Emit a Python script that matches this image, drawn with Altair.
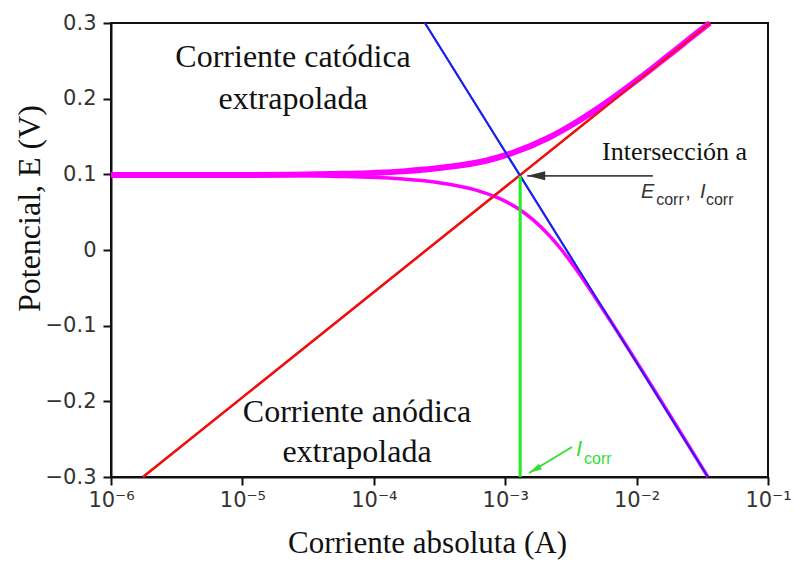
import altair as alt
import pandas as pd

# Extrapolated Tafel lines (current in A, potential in V)
anodic_line_I = [1.75e-6, 3.62e-2]
anodic_line_E = [-0.30, 0.30]
cathodic_line_I = [2.45e-4, 3.49e-2]
cathodic_line_E = [0.30, -0.30]

# Measured polarization branches
anodic_curve_I = [1.0e-6, 1.14e-5, 4.65e-5, 1.67e-4, 3.37e-4, 7.14e-4, 1.13e-3,
                  2.12e-3, 3.40e-3, 6.28e-3, 1.06e-2, 1.79e-2, 3.03e-2, 3.61e-2]
anodic_curve_E = [0.099, 0.099, 0.1003, 0.1039, 0.1089, 0.118, 0.1282,
                  0.148, 0.1678, 0.1982, 0.2274, 0.2584, 0.2898, 0.300]
cathodic_curve_I = [1.0e-6, 1.14e-5, 4.65e-5, 1.58e-4, 3.08e-4, 6.0e-4, 8.75e-4,
                    1.27e-3, 1.65e-3, 2.17e-3, 2.72e-3, 3.65e-3, 5.2e-3, 3.49e-2]
cathodic_curve_E = [0.099, 0.099, 0.0975, 0.0941, 0.0891, 0.0792, 0.0691,
                    0.0542, 0.0391, 0.019, -0.001, -0.031, -0.071, -0.300]

# Corrosion point
I_corr = 1.30e-3
E_corr = 0.098

x_ticks = [1e-6, 1e-5, 1e-4, 1e-3, 1e-2, 1e-1]
y_ticks = [-0.3, -0.2, -0.1, 0.0, 0.1, 0.2, 0.3]

SERIF = "Liberation Serif"
SANS = "DejaVu Sans"

xscale = alt.Scale(type="log", domain=[1e-6, 1e-1], nice=False)
yscale = alt.Scale(domain=[-0.3, 0.3], nice=False, zero=False)

X = alt.X(
    "I:Q", scale=xscale,
    axis=alt.Axis(
        values=x_ticks, title="Corriente absoluta (A)",
        labelExpr="'10' + ['⁻⁶','⁻⁵','⁻⁴','⁻³','⁻²','⁻¹','⁰'][round(log(datum.value)/LN10)+6]",
        labelFont=SANS, labelFontSize=21, labelColor="#333", labelPadding=4,
        titleFont=SERIF, titleFontSize=31, titleFontWeight="normal", titleColor="#111",
        titleX=316, titleY=66, titleBaseline="middle", titleAlign="center",
        grid=False, tickSize=8, tickWidth=2, tickColor="#111",
        domainColor="#111", domainWidth=2, labelFlush=False,
    ),
)
Y = alt.Y(
    "E:Q", scale=yscale,
    axis=alt.Axis(
        values=y_ticks, title="Potencial, E (V)",
        labelExpr="abs(datum.value) < 1e-9 ? '0' : format(datum.value, '.1f')",
        labelFont=SANS, labelFontSize=21, labelColor="#333", labelPadding=7,
        titleFont=SERIF, titleFontSize=32, titleFontWeight="normal", titleColor="#111",
        titleX=-82, titleY=185, titleBaseline="middle", titleAlign="center", titleAngle=270,
        grid=False, tickSize=8, tickWidth=2, tickColor="#111",
        domainColor="#111", domainWidth=2, labelFlush=False,
    ),
)


def line_df(I, E):
    return pd.DataFrame({"I": I, "E": E})


red = alt.Chart(line_df(anodic_line_I, anodic_line_E)).mark_line(
    color="#ee1111", strokeWidth=2.5).encode(x=X, y=Y)
blue = alt.Chart(line_df(cathodic_line_I, cathodic_line_E)).mark_line(
    color="#1a22ee", strokeWidth=2).encode(x=X, y=Y)
mag_up = alt.Chart(line_df(anodic_curve_I, anodic_curve_E)).mark_line(
    color="#ff00ff", strokeWidth=6, interpolate="monotone").encode(x=X, y=Y)
mag_dn = alt.Chart(line_df(cathodic_curve_I, cathodic_curve_E)).mark_line(
    color="#ff00ff", strokeWidth=3.5, interpolate="monotone").encode(x=X, y=Y)
red_top = alt.Chart(line_df(anodic_line_I, anodic_line_E)).mark_line(
    color="#ee1111", strokeWidth=2).encode(x=X, y=Y)
blue_top = alt.Chart(line_df(cathodic_line_I, cathodic_line_E)).mark_line(
    color="#1a22ee", strokeWidth=1.8).encode(x=X, y=Y)

# Vertical marker at I_corr
green = alt.Chart(pd.DataFrame({"I": [I_corr], "E": [E_corr], "E2": [-0.3]})).mark_rule(
    color="#22ee22", strokeWidth=3).encode(x=X, y=Y, y2="E2:Q")

ARROW = "M0,0L2,-0.5L2,0.5Z"

# Black arrow pointing at the intersection
arrow_df = pd.DataFrame({"I": [1.47e-3], "I2": [1.33e-2], "E": [E_corr]})
black_shaft = alt.Chart(arrow_df).mark_rule(color="#444", strokeWidth=1.6).encode(
    x=X, x2="I2:Q", y=Y)
black_head = alt.Chart(arrow_df).mark_point(
    shape=ARROW, filled=True, size=324, color="#333", opacity=1).encode(x=X, y=Y)

# Green arrow pointing at I_corr on the axis
garrow_df = pd.DataFrame({"I": [1.52e-3], "E": [-0.2947], "I2": [3.22e-3], "E2": [-0.2603]})
green_shaft = alt.Chart(garrow_df).mark_rule(color="#33dd33", strokeWidth=1.8).encode(
    x=X, y=Y, x2="I2:Q", y2="E2:Q")
green_head = alt.Chart(garrow_df).mark_point(
    shape=ARROW, filled=True, size=169, angle=330, color="#33dd33", opacity=1).encode(x=X, y=Y)

# Text annotations
serif_big = pd.DataFrame({
    "I": [2.43e-5, 2.43e-5, 7.45e-5, 7.45e-5],
    "E": [0.2419, 0.1863, -0.2269, -0.2798],
    "t": ["Corriente catódica", "extrapolada", "Corriente anódica", "extrapolada"],
})
big_text = alt.Chart(serif_big).mark_text(
    font=SERIF, fontSize=32, color="#111", align="center", baseline="alphabetic").encode(
    x=X, y=Y, text="t:N")

inter_text = alt.Chart(pd.DataFrame({"I": [5.46e-3], "E": [0.119], "t": ["Intersección a"]})).mark_text(
    font=SERIF, fontSize=26, color="#111", align="left", baseline="alphabetic").encode(
    x=X, y=Y, text="t:N")

sym_df = pd.DataFrame({
    "I": [1.08e-2, 3.04e-2],
    "E": [0.0687, 0.0687],
    "t": ["E", "I"],
})
sym_text = alt.Chart(sym_df).mark_text(
    font="Liberation Sans", fontStyle="italic", fontSize=20, color="#333",
    align="left", baseline="alphabetic").encode(x=X, y=Y, text="t:N")
comma_text = alt.Chart(pd.DataFrame({"I": [2.35e-2], "E": [0.0687], "t": [","]})).mark_text(
    font="Liberation Sans", fontSize=20, color="#333",
    align="left", baseline="alphabetic").encode(x=X, y=Y, text="t:N")
sub_df = pd.DataFrame({
    "I": [1.41e-2, 3.37e-2],
    "E": [0.0595, 0.0595],
    "t": ["corr", "corr"],
})
sub_text = alt.Chart(sub_df).mark_text(
    font="Liberation Sans", fontSize=16, color="#333",
    align="left", baseline="alphabetic").encode(x=X, y=Y, text="t:N")

g_sym = alt.Chart(pd.DataFrame({"I": [3.46e-3], "E": [-0.2722], "t": ["I"]})).mark_text(
    font="Liberation Sans", fontStyle="italic", fontSize=22, color="#33dd33",
    align="left", baseline="alphabetic").encode(x=X, y=Y, text="t:N")
g_sub = alt.Chart(pd.DataFrame({"I": [3.98e-3], "E": [-0.2828], "t": ["corr"]})).mark_text(
    font="Liberation Sans", fontSize=16, color="#33dd33",
    align="left", baseline="alphabetic").encode(x=X, y=Y, text="t:N")

chart = alt.layer(
    red, blue, mag_up, mag_dn, red_top, blue_top, green,
    black_shaft, black_head, green_shaft, green_head,
    big_text, inter_text, sym_text, comma_text, sub_text, g_sym, g_sub,
).properties(
    width=657, height=454,
    autosize="none",
    padding={"left": 111, "top": 23, "right": 26, "bottom": 85},
    background="white",
).configure_view(
    stroke="#111", strokeWidth=2,
)

chart.save("out.html", embed_options={"renderer": "svg", "actions": False})
